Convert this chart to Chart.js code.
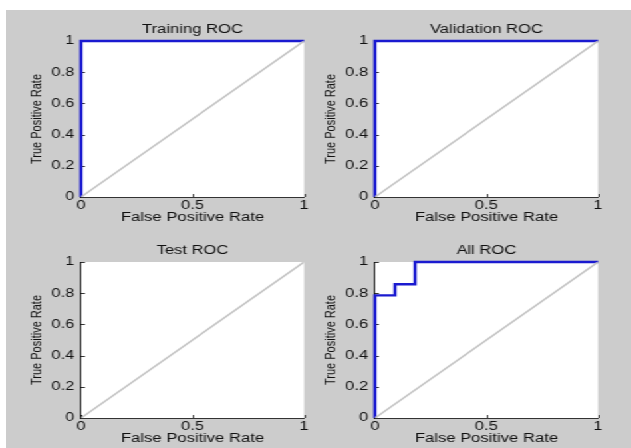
<!DOCTYPE html>
<html>
<head>
<meta charset="utf-8">
<script src="https://cdn.jsdelivr.net/npm/chart.js@4"></script>
<style>
  html, body { margin: 0; padding: 0; background: #fff; overflow: hidden; }
  #bg { position: absolute; left: 6px; top: 10px; width: 625px; height: 438px; background: #cccccc; }
  #wrap { position: absolute; left: 0; top: 0; width: 475px; height: 448px;
          transform: scaleX(1.33); transform-origin: 0 0; }
  #wrap canvas { position: absolute; }
</style>
</head>
<body>
<div id="bg"></div>
<div id="wrap">
  <canvas id="c0" style="left:0px;top:0px"></canvas>
  <canvas id="c1" style="left:220.5px;top:0px"></canvas>
  <canvas id="c2" style="left:0px;top:221px"></canvas>
  <canvas id="c3" style="left:220.5px;top:221px"></canvas>
</div>
<script>
const panelTitles = ['Training ROC', 'Validation ROC', 'Test ROC', 'All ROC'];
const xTickValues = [0, 0.5, 1];
const yTickValues = [0, 0.2, 0.4, 0.6, 0.8, 1];

const trainingFpr = [0, 0, 1];
const trainingTpr = [0, 1, 1];
const validationFpr = [0, 0, 1];
const validationTpr = [0, 1, 1];
const testFpr = [];
const testTpr = [];
const allFpr = [0, 0, 0.09, 0.09, 0.18, 0.18, 1];
const allTpr = [0, 0.786, 0.786, 0.857, 0.857, 1, 1];

const diagFpr = [0, 1];
const diagTpr = [0, 1];

const rocFpr = [trainingFpr, validationFpr, testFpr, allFpr];
const rocTpr = [trainingTpr, validationTpr, testTpr, allTpr];

const toPoints = (xs, ys) => xs.map((x, i) => ({ x: x, y: ys[i] }));

Chart.defaults.font.family = '"Liberation Sans", Arial, sans-serif';
Chart.defaults.font.size = 12.5;
Chart.defaults.color = '#111';

// white plot area, inward tick marks like matlab
const axesPlugin = {
  id: 'axesPlugin',
  beforeDraw(chart) {
    const a = chart.chartArea, ctx = chart.ctx;
    ctx.save();
    ctx.fillStyle = '#fff';
    ctx.fillRect(a.left, a.top, a.right - a.left, a.bottom - a.top);
    ctx.restore();
  },
  beforeDatasetsDraw(chart) {
    const a = chart.chartArea, ctx = chart.ctx;
    const xs = chart.scales.x, ys = chart.scales.y;
    ctx.save();
    ctx.strokeStyle = '#333';
    ctx.lineWidth = 1;
    ctx.beginPath();
    xTickValues.forEach(v => {
      const px = Math.round(xs.getPixelForValue(v)) + 0.5;
      ctx.moveTo(px, a.bottom);
      ctx.lineTo(px, a.bottom - 3);
    });
    yTickValues.forEach(v => {
      const py = Math.round(ys.getPixelForValue(v)) + 0.5;
      ctx.moveTo(a.left, py);
      ctx.lineTo(a.left + 3, py);
    });
    ctx.stroke();
    ctx.restore();
  }
};

panelTitles.forEach((title, i) => {
  const canvas = document.getElementById('c' + i);
  canvas.width = 237;
  canvas.height = 226;
  new Chart(canvas, {
    type: 'line',
    data: {
      datasets: [
        {
          data: toPoints(diagFpr, diagTpr),
          borderColor: '#c4c4c4',
          borderWidth: 1.6,
          pointRadius: 0,
          tension: 0
        },
        {
          data: toPoints(rocFpr[i], rocTpr[i]),
          borderColor: '#1a1ad0',
          borderWidth: 2.4,
          pointRadius: 0,
          tension: 0,
          clip: false
        }
      ]
    },
    options: {
      responsive: false,
      animation: false,
      events: [],
      layout: { padding: { left: 16, right: 8.4, top: 0, bottom: 1 } },
      plugins: {
        legend: { display: false },
        tooltip: { enabled: false },
        title: {
          display: true,
          text: title,
          fullSize: false,
          color: '#111',
          font: { size: 12.5, weight: 'normal' },
          padding: { top: 22.5, bottom: 3.5 }
        }
      },
      scales: {
        x: {
          type: 'linear',
          min: 0,
          max: 1,
          afterBuildTicks: s => { s.ticks = xTickValues.map(v => ({ value: v })); },
          afterFit: s => { s.height = 28; },
          grid: { drawOnChartArea: false, drawTicks: false },
          border: { display: true, color: '#333', width: 1 },
          ticks: { padding: 1.5, maxRotation: 0, font: { size: 12.5 }, callback: v => String(v) },
          title: { display: true, text: 'False Positive Rate', padding: 0, font: { size: 12.5 } }
        },
        y: {
          min: 0,
          max: 1,
          afterBuildTicks: s => { s.ticks = yTickValues.map(v => ({ value: v })); },
          afterFit: s => { s.width = 44.9; },
          grid: { drawOnChartArea: false, drawTicks: false },
          border: { display: true, color: '#111', width: 1 },
          ticks: { padding: 5, font: { size: 12.5 }, callback: v => String(v) },
          title: { display: true, text: 'True Positive Rate', padding: { top: 5.5, bottom: 0 }, font: { size: 11 } }
        }
      }
    },
    plugins: [axesPlugin]
  });
});
</script>
</body>
</html>
